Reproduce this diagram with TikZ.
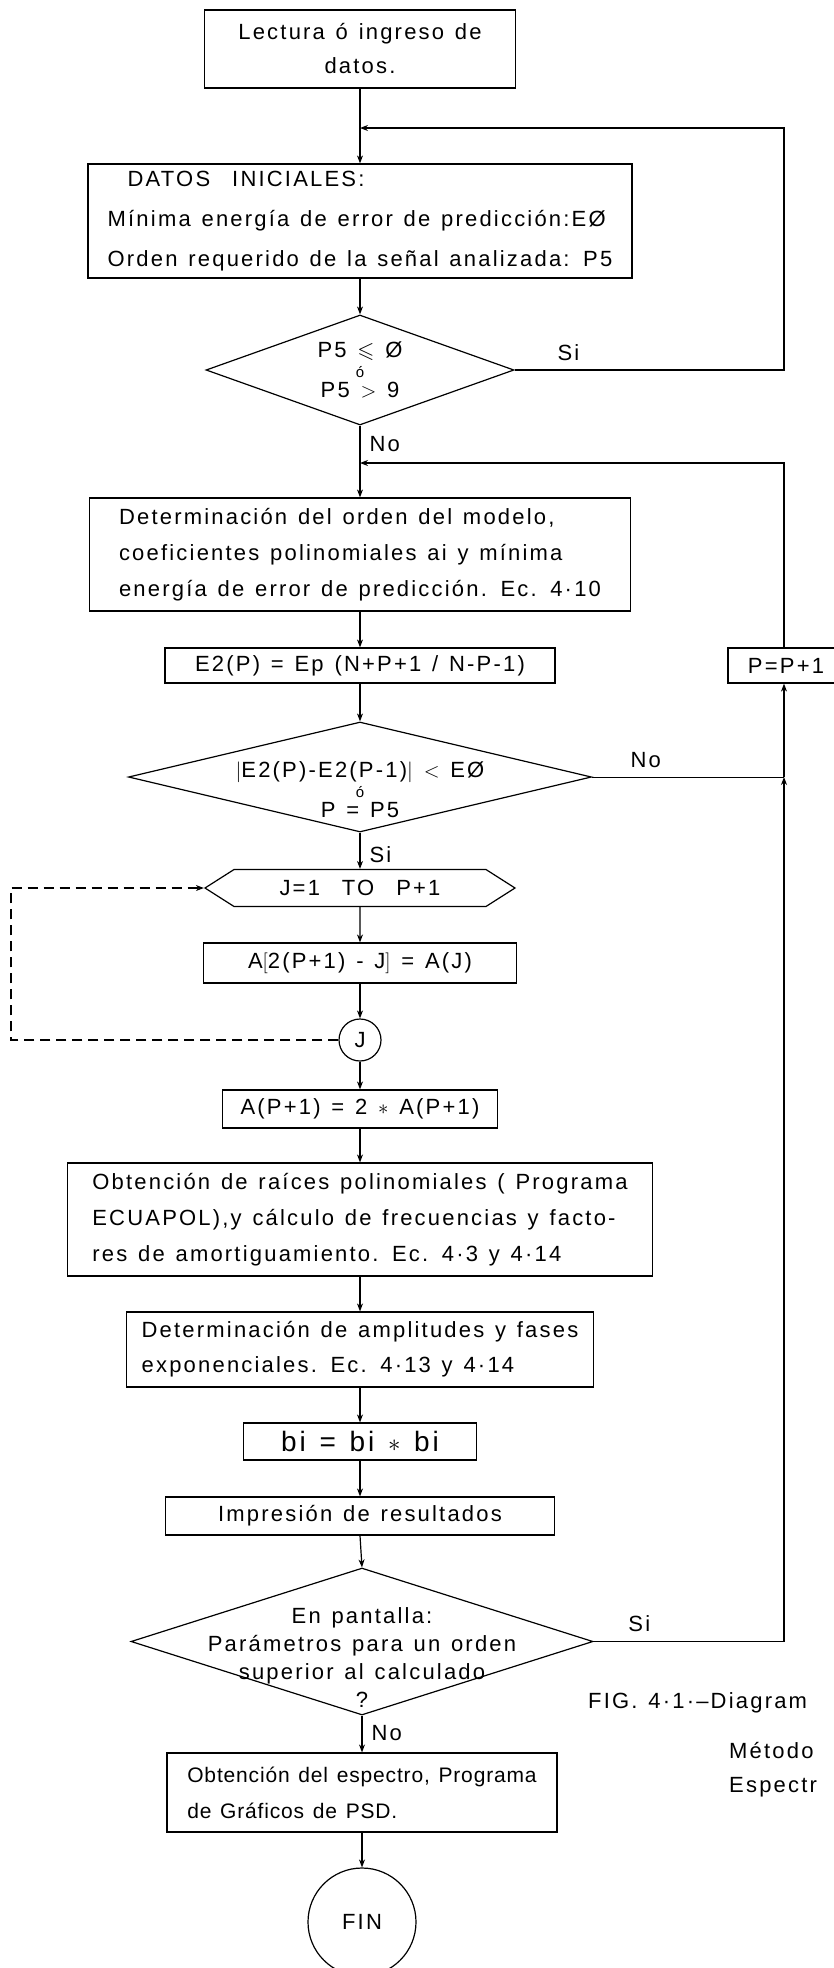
\documentclass[tikz,border=0pt]{standalone}
\usepackage{amssymb}
\usepackage{fontspec}
\setmainfont{Liberation Sans}[LetterSpace=10, WordSpace=1.3]
\usetikzlibrary{shapes.geometric, shapes.symbols, arrows.meta}
\newcommand{\orsign}{{\fontsize{15}{15}\selectfont ó}}
\tikzset{
  box/.style={rectangle, draw, line width=1.2pt, inner sep=0pt, align=center, font=\fontsize{22}{36}\selectfont},
  tbox/.style={box, align=left},
  cond/.style={diamond, draw, line width=1.2pt, inner sep=0pt},
  loopbox/.style={signal, signal to=west and east, signal pointer angle=65, draw, line width=1.2pt, inner sep=0pt, font=\fontsize{22}{24}\selectfont},
  conn/.style={circle, draw, line width=1.2pt, inner sep=0pt, font=\fontsize{22}{24}\selectfont},
  arrow/.style={-{Stealth[length=8pt, width=6pt]}, line width=1.2pt},
  lbl/.style={inner sep=0pt, font=\fontsize{22}{20}\selectfont},
  caption/.style={inner sep=0pt, anchor=west, font=\fontsize{22}{26}\selectfont},
}

\begin{document}
\begin{tikzpicture}[x=1pt, y=-1pt]
    \useasboundingbox (0,0) rectangle (834,1968);
    \fill[white] (0,0) rectangle (834,1968);
    \clip (0,0) rectangle (834,1968);

    \node[box, minimum width=311, minimum height=78, font=\fontsize{22}{34}\selectfont] (lectura) at (360,49) {Lectura ó ingreso de\\datos.};
    \node[tbox, minimum width=544, minimum height=114, font=\fontsize{22}{40}\selectfont] (datos) at (360,221)
        {\hspace*{20pt}DATOS\quad INICIALES:\\Mínima energía de error de predicción:EØ\\Orden requerido de la señal analizada: P5};
    \node[cond, minimum width=308, minimum height=110] (cond1) at (360,370) {};
    \node[lbl, align=center] (cond1txt) at (cond1) {P5 $\leqslant$ Ø\\\orsign\\P5 $>$ 9};
    \node[tbox, minimum width=541, minimum height=113] (det) at (360,554.5)
        {Determinación del orden del modelo,\\coeficientes polinomiales ai y mínima\\energía de error de predicción. Ec. 4·10};
    \node[box, minimum width=390, minimum height=35] (epred) at (360,665.5) {E2(P) = Ep (N+P+1 / N-P-1)};
    \node[box, minimum width=116, minimum height=35] (pinc) at (786,665.5) {P=P+1};
    \node[cond, minimum width=463, minimum height=110] (cond2) at (360,777) {};
    \node[lbl, align=center] (cond2txt) at (360,790) {$\big|$E2(P)-E2(P-1)$\big|$ $<$ EØ\\\orsign\\P = P5};
    \node[loopbox, minimum width=310, minimum height=37] (loop) at (360,888) {J=1\quad TO\quad P+1};
    \node[box, minimum width=313, minimum height=40] (refl) at (360,963) {A$\Big[$2(P+1) - J$\Big]$ = A(J)};
    \node[conn, minimum size=42] (jnode) at (360,1040) {J};
    \node[box, minimum width=275, minimum height=38] (dbl) at (360,1109) {A(P+1) = 2 $\ast$ A(P+1)};
    \node[tbox, minimum width=585, minimum height=113] (roots) at (360,1219.5)
        {Obtención de raíces polinomiales ( Programa\\ECUAPOL),y cálculo de frecuencias y facto-\\res de amortiguamiento. Ec. 4·3 y 4·14};
    \node[tbox, minimum width=467, minimum height=75, font=\fontsize{22}{35}\selectfont] (ampl) at (360,1349.5)
        {Determinación de amplitudes y fases\\exponenciales. Ec. 4·13 y 4·14};
    \node[box, minimum width=233, minimum height=37, font=\fontsize{28}{30}\selectfont] (bsq) at (360,1441.5) {bi = bi $\ast$ bi};
    \node[box, minimum width=389, minimum height=38] (impr) at (360,1516) {Impresión de resultados};
    \node[cond, minimum width=462, minimum height=147] (cond3) at (362,1641.5) {};
    \node[lbl, align=center, font=\fontsize{22}{28}\selectfont] (cond3txt) at (362,1658)
        {En pantalla:\\Parámetros para un orden\\superior al calculado\\?};
    \node[tbox, minimum width=390, minimum height=79, inner xsep=8pt, font=\fontsize{21}{36}\selectfont\addfontfeature{LetterSpace=4}] (spec) at (362,1792.5)
        {Obtención del espectro, Programa\\de Gráficos de PSD.};
    \node[conn, minimum size=108] (fin) at (362,1922) {FIN};

    \coordinate (j1) at (360,128);
    \coordinate (j2) at (360,463);
    \coordinate (r1) at (784,370);
    \coordinate (r2) at (784,777);
    \coordinate (r3) at (784,1641.5);
    \coordinate (dl1) at (11,1040);
    \coordinate (dl2) at (11,888);

    \draw[arrow] (lectura) -- (datos);
    \draw[arrow] (datos) -- (cond1);
    \draw[arrow] (cond1.east) -- node[lbl, pos=0.2, above=9pt] (si1) {Si} (r1) |- (j1);
    \draw[arrow] (cond1.south) -- node[lbl, pos=0.25, right=9pt] (no1) {No} (det.north);
    \draw[arrow] (pinc.north -| r1) |- (j2);
    \draw[arrow] (det) -- (epred);
    \draw[arrow] (epred) -- (cond2);
    \draw (cond2.east) -- node[lbl, pos=0.28, above=9pt] (no2) {No} (r2);
    \draw[arrow] (r2) -- (r2 |- pinc.south);
    \draw[arrow] (cond2.south) -- node[lbl, pos=0.6, right=9pt] (si2) {Si} (loop.north);
    \draw[arrow] (loop) -- (refl);
    \draw[arrow] (refl) -- (jnode);
    \draw[arrow, dashed, dash pattern=on 10pt off 6pt] (jnode.west) -- (dl1) -- (dl2) -- (loop.west);
    \draw[arrow] (jnode) -- (dbl);
    \draw[arrow] (dbl) -- (roots);
    \draw[arrow] (roots) -- (ampl);
    \draw[arrow] (ampl) -- (bsq);
    \draw[arrow] (bsq) -- (impr);
    \draw[arrow] (impr.south) -- (cond3.north);
    \draw[arrow] (cond3.east) -- node[lbl, pos=0.24, above=9pt] (si3) {Si} (r3) -- (r2);
    \draw[arrow] (cond3.south) -- node[lbl, pos=0.47, right=9pt] (no3) {No} (spec.north);
    \draw[arrow] (spec) -- (fin);

    \node[caption] (fig) at (588,1703) {FIG. 4·1·--Diagram};
    \node[caption] (metodo) at (729,1750) {Método};
    \node[caption] (espectr) at (729,1787) {Espectr};
\end{tikzpicture}
\end{document}
